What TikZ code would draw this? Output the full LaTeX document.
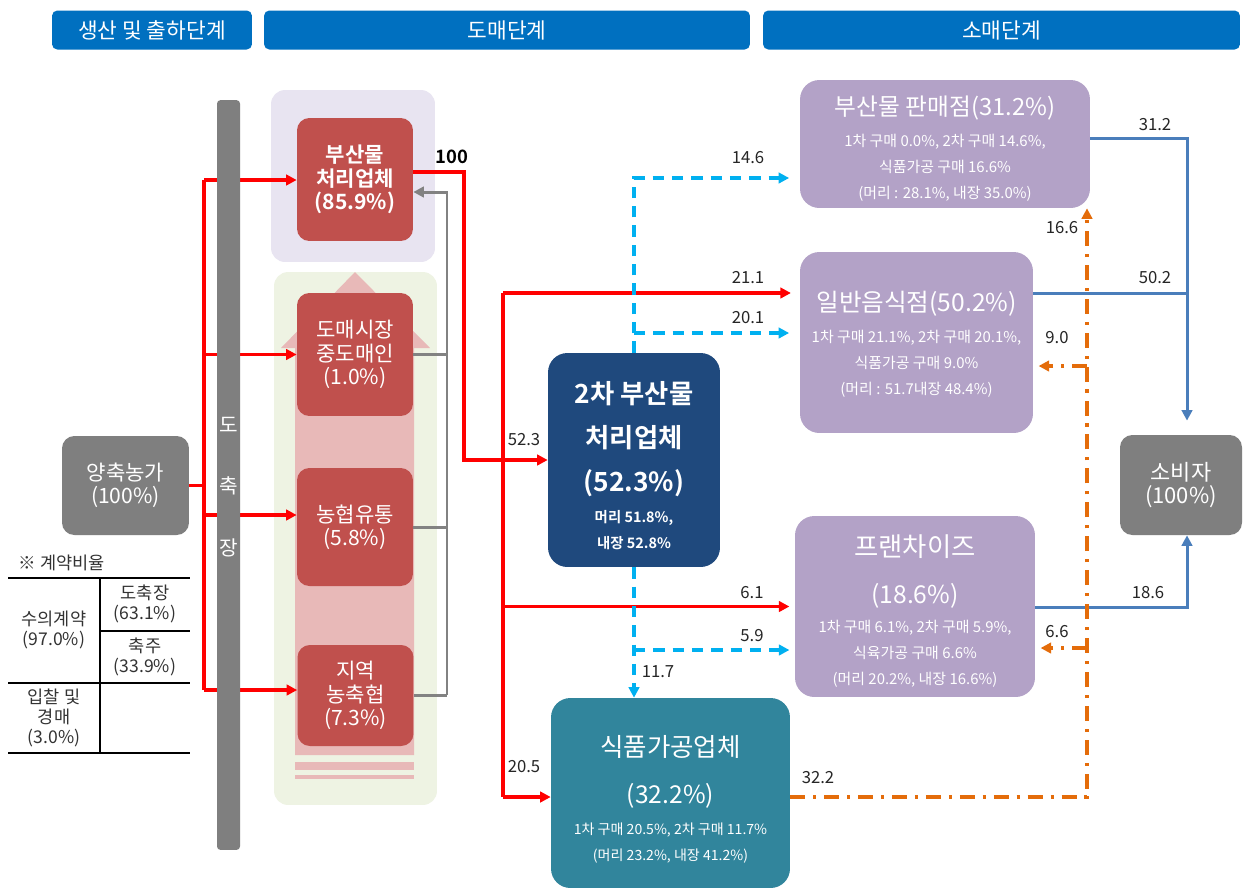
\documentclass[tikz,border=0pt]{standalone}
\usepackage{fontspec}
\setmainfont{Noto Sans CJK KR}[BoldFont={Noto Sans CJK KR Bold}]
\usetikzlibrary{arrows.meta}
\definecolor{stageblue}{RGB}{0,112,192}
\definecolor{boxred}{RGB}{192,80,77}
\definecolor{boxgray}{RGB}{127,127,127}
\definecolor{boxpurple}{RGB}{179,162,199}
\definecolor{boxnavy}{RGB}{31,73,125}
\definecolor{boxteal}{RGB}{49,133,156}
\definecolor{bglav}{RGB}{232,228,241}
\definecolor{bggreen}{RGB}{238,243,227}
\definecolor{arrowpink}{RGB}{232,185,184}
\definecolor{linered}{RGB}{255,0,0}
\definecolor{linecyan}{RGB}{0,176,240}
\definecolor{lineblue}{RGB}{74,126,187}
\definecolor{lineorange}{RGB}{228,108,10}
\definecolor{linegray}{RGB}{130,130,130}
\tikzset{%
  stage/.style={
    fill=stageblue,
    rounded corners=3pt,
    text=white,
    minimum height=0.78cm,
    font=\fontsize{12.2}{14}\selectfont
  },
  redbox/.style={
    fill=boxred,
    rounded corners=7pt,
    text=white,
    align=center,
    minimum width=2.32cm,
    font=\fontsize{12}{13.3}\selectfont
  },
  graybox/.style={
    fill=boxgray,
    rounded corners=7pt,
    text=white,
    align=center,
    font=\fontsize{12}{13}\selectfont
  },
  shopbox/.style={
    fill=boxpurple,
    rounded corners=11pt
  },
  ttl/.style={
    text=white,
    align=center,
    font=\fontsize{13.5}{26.5}\selectfont
  },
  dtl/.style={
    text=white,
    align=center,
    font=\fontsize{8.5}{14.7}\selectfont
  },
  num/.style={font=\fontsize{9.5}{11}\selectfont, text=black!85},
  cell/.style={align=center, text=black!80, font=\fontsize{10}{11.5}\selectfont},
  tip/.style={-{Triangle[length=6pt,width=6pt]}},
  redln/.style={draw=linered, line width=2pt},
  grayln/.style={draw=linegray, line width=1.7pt},
  cyanln/.style={draw=linecyan, line width=1.8pt, dash pattern=on 6.5pt off 4.5pt},
  blueln/.style={draw=lineblue, line width=1.7pt},
  orangeln/.style={draw=lineorange, line width=2pt, dash pattern=on 8.5pt off 4.5pt on 1.8pt off 4.5pt}
}

\begin{document}
\begin{tikzpicture}[x=0.02cm, y=-0.02cm]
		\useasboundingbox[fill=white] (0,0) rectangle (1244,890);
		% stages
		\node[stage, minimum width=4cm] (hd1) at (152,30) {생산 및 출하단계};
		\node[stage, minimum width=9.72cm] (hd2) at (507,30) {도매단계};
		\node[stage, minimum width=9.54cm] (hd3) at (1001.5,30) {소매단계};
		% wholesale background
		\node[fill=bglav, rounded corners=8pt, minimum width=3.28cm, minimum height=3.44cm] (bgtop) at (353,176) {};
		\node[fill=bggreen, rounded corners=8pt, minimum width=3.26cm, minimum height=10.66cm] (bgbot) at (355.5,538.5) {};
		\fill[arrowpink] (295,755) -- (295,348) -- (281,348) -- (355,272) -- (430,348) -- (414,348) -- (414,755) -- cycle;
		\fill[arrowpink] (295,762) rectangle (414,770);
		\fill[arrowpink] (295,775) rectangle (414,779);
		% farm
		\node[graybox, minimum width=2.54cm, minimum height=1.98cm] (farm) at (125.5,485.5) {양축농가\\(100\%)};
		% wholesale
		\node[redbox, minimum height=2.46cm, font=\bfseries\fontsize{12}{13.3}\selectfont] (bp) at (355,179.5) {부산물\\처리업체\\(85.9\%)};
		\node[redbox, minimum height=2.46cm] (wm) at (355,354.5) {도매시장\\중도매인\\(1.0\%)};
		\node[redbox, minimum height=2.36cm] (nh) at (355,527) {농협유통\\(5.8\%)};
		\node[redbox, minimum height=2.02cm] (lc) at (355.5,695.5) {지역\\농축협\\(7.3\%)};
		% second processor
		\node[fill=boxnavy, rounded corners=11pt, minimum width=3.44cm, minimum height=4.28cm] (sec) at (634,460) {};
		\node[text=white, align=center, font=\bfseries\fontsize{15}{25}\selectfont] (sec-t) at (634,439) {2차 부산물\\처리업체\\(52.3\%)};
		\node[text=white, align=center, font=\bfseries\fontsize{8.2}{14.7}\selectfont] (sec-d) at (634,530) {머리 51.8\%,\\내장 52.8\%};
		% food processor
		\node[fill=boxteal, rounded corners=11pt, minimum width=4.78cm, minimum height=3.8cm] (fp) at (670.5,793) {};
		\node[ttl, font=\fontsize{14.5}{26.5}\selectfont] (fp-t) at (670.5,772) {식품가공업체\\{\fontsize{14}{26.5}\selectfont(32.2\%)}};
		\node[dtl, font=\fontsize{8}{14.7}\selectfont] (fp-d) at (670.5,843) {1차 구매 20.5\%, 2차 구매 11.7\%\\(머리 23.2\%, 내장 41.2\%)};
		% retail
		\node[shopbox, minimum width=5.8cm, minimum height=2.56cm] (ps) at (945,144) {};
		\node[ttl] (ps-t) at (945,108) {부산물 판매점(31.2\%)};
		\node[dtl] (ps-d) at (945,168) {1차 구매 0.0\%, 2차 구매 14.6\%,\\식품가공 구매 16.6\%\\(머리 : 28.1\%, 내장 35.0\%)};
		\node[shopbox, minimum width=4.66cm, minimum height=3.62cm] (gr) at (916.5,342.5) {};
		\node[ttl, font=\fontsize{14}{26.5}\selectfont] (gr-t) at (916.5,304) {일반음식점(50.2\%)};
		\node[dtl] (gr-d) at (916.5,364) {1차 구매 21.1\%, 2차 구매 20.1\%,\\식품가공 구매 9.0\%\\(머리 : 51.7내장 48.4\%)};
		\node[shopbox, minimum width=4.8cm, minimum height=3.62cm] (fr) at (915,606.5) {};
		\node[ttl, font=\fontsize{15}{26.5}\selectfont] (fr-t) at (915,571.5) {프랜차이즈\\{\fontsize{14}{26.5}\selectfont(18.6\%)}};
		\node[dtl] (fr-d) at (915,654) {1차 구매 6.1\%, 2차 구매 5.9\%,\\식육가공 구매 6.6\%\\(머리 20.2\%, 내장 16.6\%)};
		% consumer
		\node[graybox, minimum width=2.44cm, minimum height=2cm, font=\fontsize{12.5}{13.5}\selectfont] (cons) at (1181,485) {소비자\\(100\%)};
		% farm to slaughterhouse
		\coordinate (r1) at (204,180);
		\coordinate (r3) at (204,515);
		\coordinate (r4) at (204,690);
		\draw[redln] (farm.east) -- (farm.east -| r1);
		\draw[redln] (r1) -- (r4);
		\draw[redln, tip] (r1) -- (r1 -| bp.west);
		\draw[redln, tip] (wm.west -| r1) -- (wm.west);
		\draw[redln, tip] (r3) -- (r3 -| nh.west);
		\draw[redln, tip] (r4) -- (r4 -| lc.west);
		% slaughterhouse bar
		\node[fill=boxgray, rounded corners=2pt, minimum width=0.46cm, minimum height=15cm] (bar) at (228.5,475) {};
		\node[text=white, align=center, font=\fontsize{11.5}{35}\selectfont] (bar-t) at (228.5,487) {도\\축\\장};
		% return to processor
		\coordinate (g1) at (447,192);
		\coordinate (g4) at (447,695);
		\draw[grayln] (wm.east) -- (wm.east -| g1);
		\draw[grayln] (nh.east) -- (nh.east -| g1);
		\draw[grayln] (g4 -| lc.east) -- (g4);
		\draw[grayln, tip] (g4) -- (g1) -- (g1 -| bp.east);
		% processor to second stage
		\coordinate (b1) at (464,172);
		\draw[redln, tip] (b1 -| bp.east) -- (b1) -- (b1 |- sec.west) -- (sec.west);
		\node[font=\bfseries\fontsize{10.5}{12}\selectfont] (n100) at (452,157) {100};
		\node[num] (n523) at (524,440) {52.3};
		\coordinate (v1) at (503,293);
		\coordinate (v2) at (503,797);
		\draw[redln] (v1) -- (v2);
		\draw[redln, tip, shorten >=5pt] (v1) -- (v1 -| gr.west);
		\draw[redln, tip, shorten >=3pt] (fr.west -| v1) -- (fr.west);
		\draw[redln, tip] (v2) -- (v2 -| fp.west);
		\node[num] (n211) at (748,278) {21.1};
		\node[num] (n61) at (752,593) {6.1};
		\node[num] (n205) at (524,767) {20.5};
		% second stage out
		\coordinate (c1) at (634,178);
		\coordinate (c2) at (634,333);
		\coordinate (c3) at (634,650);
		\draw[cyanln, tip, shorten >=6pt] (sec.north) -- (c1) -- (c1 -| ps.west);
		\draw[cyanln, tip, shorten >=6pt] (c2) -- (c2 -| gr.west);
		\draw[cyanln, tip] (sec.south) -- (sec.south |- fp.north);
		\draw[cyanln, tip, shorten >=3pt] (c3) -- (c3 -| fr.west);
		\node[num] (n146) at (748,158) {14.6};
		\node[num] (n201) at (748,318) {20.1};
		\node[num] (n117) at (658,672) {11.7};
		\node[num] (n59) at (752,636) {5.9};
		% retail to consumer
		\coordinate (u1) at (1187,138);
		\coordinate (u2) at (1187,293);
		\coordinate (u3) at (1187,607);
		\draw[blueln, tip, shorten >=8pt] (u1 -| ps.east) -- (u1) -- (u1 |- cons.north);
		\draw[blueln] (u2 -| gr.east) -- (u2);
		\draw[blueln, tip] (u3 -| fr.east) -- (u3) -- (u3 |- cons.south);
		\node[num] (n312) at (1155,125) {31.2};
		\node[num] (n502) at (1155,278) {50.2};
		\node[num] (n186) at (1148,593) {18.6};
		% food processor to retail
		\coordinate (o1) at (1087,797);
		\coordinate (o2) at (1087,366);
		\coordinate (o3) at (1087,648);
		\draw[orangeln, tip] (o1 -| fp.east) -- (o1) -- (o1 |- ps.south);
		\draw[orangeln, tip, shorten >=3pt] (o2) -- (o2 -| gr.east);
		\draw[orangeln, tip, shorten >=3pt] (o3) -- (o3 -| fr.east);
		\node[num] (n322) at (818,778) {32.2};
		\node[num] (n166) at (1062,228) {16.6};
		\node[num] (n90) at (1057,338) {9.0};
		\node[num] (n66) at (1057,632) {6.6};
		% contract table
		\node[cell] (tb) at (62,563) {※ 계약비율};
		\draw[line width=0.9pt] (8,578) -- (190,578);
		\draw[line width=0.9pt] (100,631) -- (190,631);
		\draw[line width=0.9pt] (8,683) -- (190,683);
		\draw[line width=0.9pt] (8,753) -- (190,753);
		\draw[line width=0.9pt] (100,578) -- (100,753);
		\node[cell] (tb1) at (54,630) {수의계약\\(97.0\%)};
		\node[cell] (tb2) at (145,604) {도축장\\(63.1\%)};
		\node[cell] (tb3) at (145,657) {축주\\(33.9\%)};
		\node[cell] (tb4) at (54,718) {입찰 및\\경매\\(3.0\%)};
	\end{tikzpicture}
\end{document}
